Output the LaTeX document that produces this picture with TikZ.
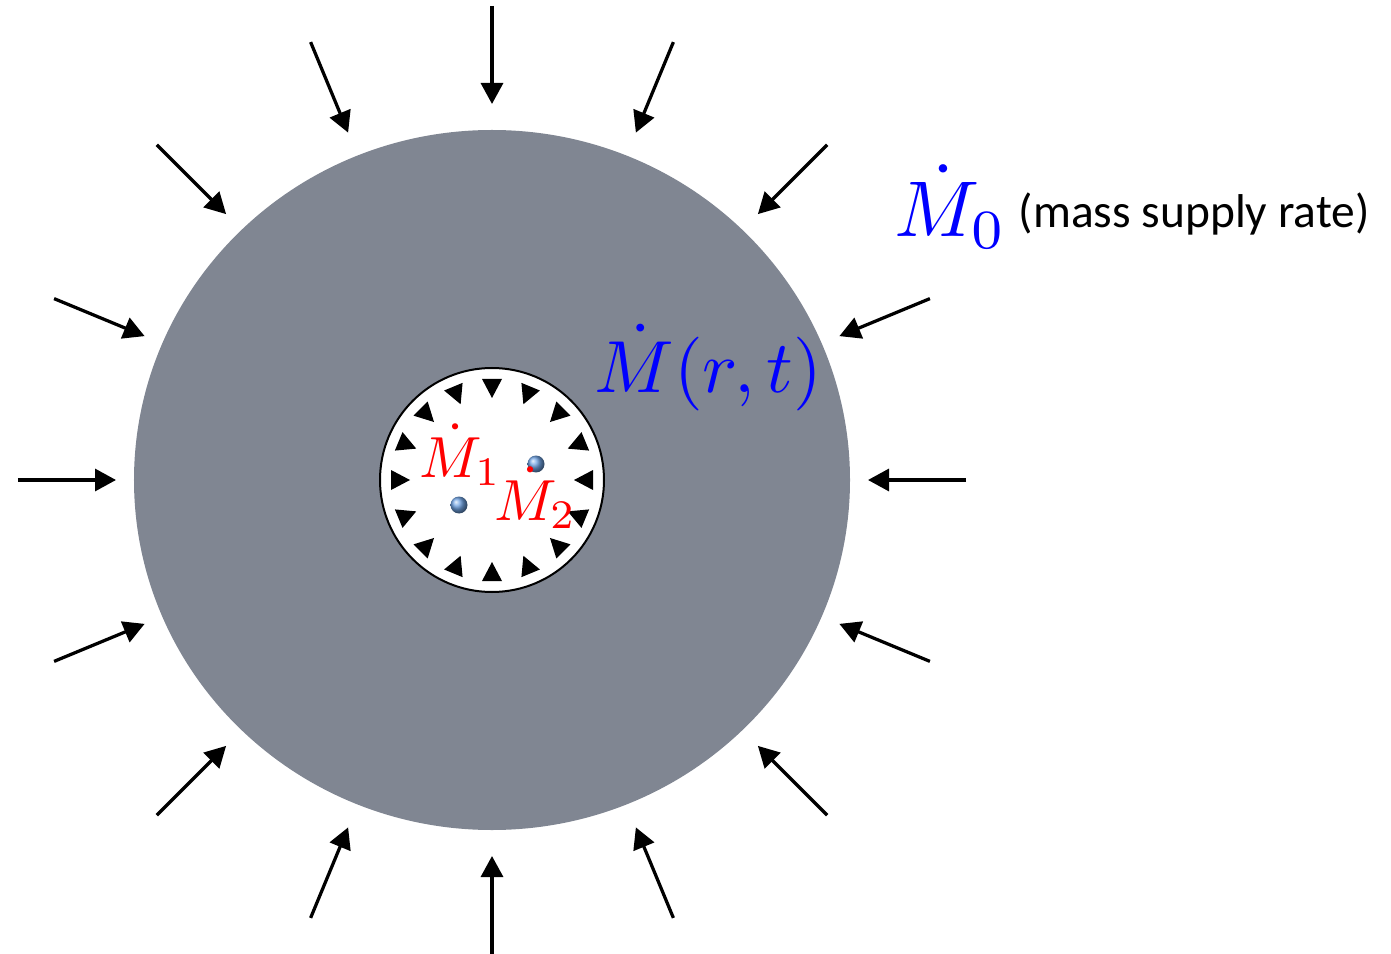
\documentclass[tikz,border=0pt]{standalone}
\usepackage{fontspec}
\newfontfamily\calib{Carlito}
\usetikzlibrary{arrows.meta,shadings}
\definecolor{shell}{HTML}{808692}
\definecolor{dotblue}{HTML}{6FA2E2}

\begin{document}
\begin{tikzpicture}[x=0.02cm, y=0.02cm,
      inflow/.style={-{Triangle[length=4.2mm, width=4.4mm]}, line width=0.065cm, black},
      tip/.style={fill=black},
      lbl/.style={inner sep=0pt, anchor=base west},
      grain/.style={circle, inner sep=0pt, minimum size=0.34cm, shading=ball, ball color=dotblue}]
    \useasboundingbox (-492,-473) rectangle (899,480);
    % shell and core
    \fill[shell] (0,0) ellipse [x radius=358, y radius=350];
    \draw[fill=white, line width=0.04cm] (0,0) circle (112);
    % supply from outside
    \foreach \a in {0,22.5,...,337.5}
      \draw[inflow] (\a:474) -- (\a:376);
    % small heads inside the core
    \foreach \a in {0,22.5,...,337.5}
      \fill[tip, rotate=\a] (82,0) -- (101,10) -- (101,-10) -- cycle;
    \node[grain] (g1) at (-33,-25) {};
    \node[grain] (g2) at (44,16) {};
    \node[lbl, scale=4.5, text=blue] (m0) at (401,243) {$\dot M_0$};
    \node[lbl, scale=2.7, font=\calib] (supply) at (526,252) {(mass supply rate)};
    \node[lbl, scale=4.2, text=blue] (mrt) at (101,88) {$\dot M(r,t)$};
    \node[lbl, scale=3.3, text=red] (m1) at (-74,3) {$\dot M_1$};
    \node[lbl, scale=3.3, text=red] (m2) at (1,-40) {$\dot M_2$};
  \end{tikzpicture}
\end{document}
